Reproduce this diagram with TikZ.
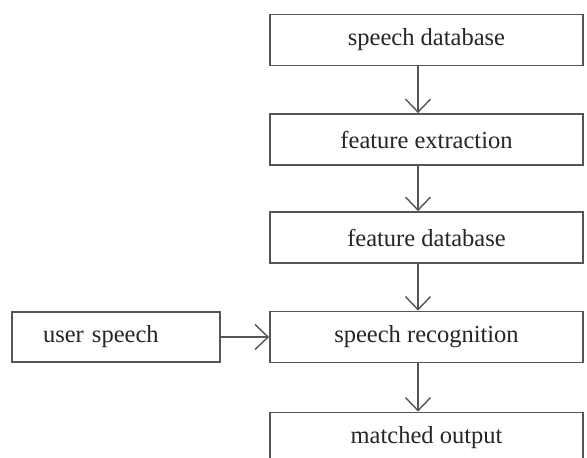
\documentclass[tikz,border=0pt]{standalone}
\usepackage{fontspec}
\setmainfont{Liberation Serif}
\usetikzlibrary{arrows.meta}
\definecolor{linegray}{HTML}{555555}
\definecolor{textgray}{HTML}{262626}
\begin{document}
\begin{tikzpicture}[x=1pt,y=-1pt,
  box/.style={draw=linegray, line width=1.8pt, rectangle, inner sep=0pt,
    text=textgray, font=\fontsize{24.5}{28}\selectfont},
  colbox/.style={box, minimum width=313pt, minimum height=51pt},
  conn/.style={draw=linegray, line width=1.4pt,
    -{Straight Barb[length=13pt,width=25pt,line width=1.4pt]}}]
\useasboundingbox (0,0) rectangle (587,458);
\clip (0,0) rectangle (587,458);
\fill[white] (0,0) rectangle (587,458);
\node[colbox] (sd) at (426.5,40) {speech database};
\node[colbox] (fe) at (426.5,139.5) {feature extraction};
\node[colbox] (fd) at (426.5,237.5) {feature database};
\node[colbox] (sr) at (426.5,337) {speech recognition};
\node[colbox] (mo) at (426.5,438) {matched output};
\node[box, minimum height=50pt, text width=146pt, inner xsep=31pt, align=left] (us) at (116,337) {user speech};
\draw[conn] ([xshift=-8.5pt]sd.south) -- ([xshift=-8.5pt]fe.north);
\draw[conn] ([xshift=-8.5pt]fe.south) -- ([xshift=-8.5pt]fd.north);
\draw[conn] ([xshift=-8.5pt]fd.south) -- ([xshift=-8.5pt]sr.north);
\draw[conn] ([xshift=-8.5pt]sr.south) -- ([xshift=-8.5pt]mo.north);
\draw[conn] (us.east) -- (sr.west);
\end{tikzpicture}
\end{document}
